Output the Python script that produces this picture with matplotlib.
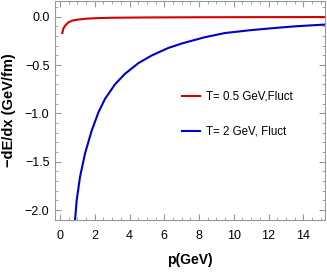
import numpy as np
import matplotlib.pyplot as plt
from matplotlib.ticker import MultipleLocator

plt.rcParams['font.family'] = ['Liberation Sans', 'DejaVu Sans']

p_hot = [0.13, 0.20, 0.29, 0.48, 0.70, 1.0, 1.5, 2.0, 3.0, 5.0, 8.0, 11.0, 15.3]
dedx_hot = [-0.168, -0.12, -0.093, -0.058, -0.040, -0.030, -0.020, -0.015,
            -0.010, -0.007, -0.005, -0.004, -0.003]

p_vhot = [0.86, 0.96, 1.15, 1.44, 1.82, 2.21, 2.59, 3.16, 3.74, 4.51, 5.28,
          6.23, 7.0, 8.3, 9.5, 11.0, 12.3, 13.6, 15.3]
dedx_vhot = [-2.12, -1.90, -1.66, -1.415, -1.18, -0.99, -0.85, -0.70, -0.59,
             -0.48, -0.40, -0.323, -0.277, -0.213, -0.168, -0.138, -0.117,
             -0.098, -0.080]

labels = ["T= 0.5 GeV,Fluct", "T= 2 GeV, Fluct"]

fig = plt.figure(figsize=(3.27, 2.73), dpi=100)
ax = fig.add_axes([0.168, 0.194, 0.826, 0.803])

ax.plot(p_hot, dedx_hot, color='#d40000', lw=1.5, label=labels[0])
ax.plot(p_vhot, dedx_vhot, color='#0000cc', lw=1.5, label=labels[1])

ax.set_xlim(-0.29, 15.25)
ax.set_ylim(-2.103, 0.165)
ax.xaxis.set_major_locator(MultipleLocator(2))
ax.xaxis.set_minor_locator(MultipleLocator(0.5))
ax.yaxis.set_major_locator(MultipleLocator(0.5))
ax.yaxis.set_minor_locator(MultipleLocator(0.1))

for s in ax.spines.values():
    s.set_color('#999999')
    s.set_linewidth(0.8)
ax.tick_params(which='both', direction='in', top=True, right=True, color='#999999',
               labelsize=9)
ax.tick_params(which='major', length=4, width=0.8)
ax.tick_params(which='minor', length=2, width=0.6)
ax.tick_params(axis='x', pad=7)
ax.tick_params(axis='y', pad=4)

ax.set_xlabel("p(GeV)", fontsize=10, fontweight='bold', labelpad=8)
ax.set_ylabel("\u2212dE/dx (GeV/fm)", fontsize=10.5, fontweight='bold', labelpad=6)

ax.legend(loc='upper left', bbox_to_anchor=(0.47, 0.59), frameon=False,
          fontsize=8.3, borderpad=0, borderaxespad=0, labelspacing=2.0,
          handlelength=1.6, handletextpad=0.45)

fig.savefig("out.png", dpi=100)
